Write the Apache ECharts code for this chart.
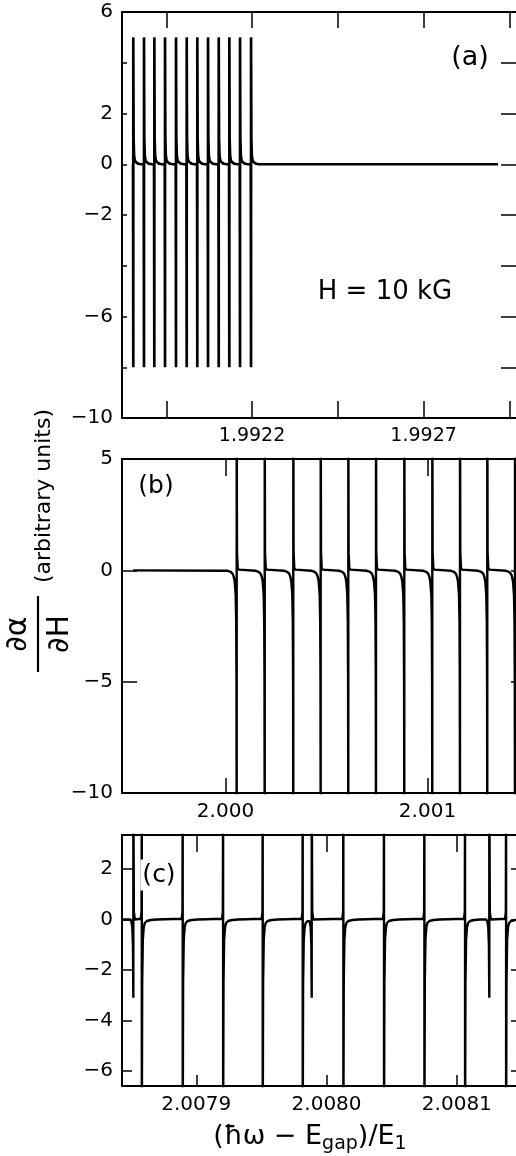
<!DOCTYPE html>
<html><head><meta charset="utf-8">
<script src="https://cdn.jsdelivr.net/npm/echarts@6/dist/echarts.min.js"></script>
<style>html,body{margin:0;padding:0;background:#fff}#c{width:516px;height:1156px}</style>
</head><body><div id="c"></div>
<script>
// ---------------- Panel (a) : H = 10 kG ----------------
const aXRange = [1.991821, 1.992978];
const aYRange = [-10, 6];
const aXTicks = [1.99195, 1.9922, 1.99245, 1.9927, 1.99295];
const aXLabels = [1.9922, 1.9927];
const aYTicks = [6, 4, 2, 0, -2, -4, -6, -8, -10];
const aYLabels = [6, 2, 0, -2, -6, -10];
const aSpikes = [1.9918539, 1.9918851, 1.9919152, 1.9919464, 1.9919784, 1.9920096,
                 1.9920405, 1.9920717, 1.9921029, 1.9921338, 1.9921650, 1.9921971];
const aCore = [-8, 5];                       // spike runs from -8 up to +5
const aPreDx = [-0.0000008];
const aPreY = [0];
const aPostDx = [0.0000009, 0.0000023, 0.0000044, 0.0000087, 0.0000146, 0.0000233];
const aPostY = [1.0, 0.35, 0.15, 0.07, 0.02, 0];
const aLineEnd = 1.992917;

// ---------------- Panel (b) ----------------
const bXRange = [1.9994876, 2.0014530];
const bYRange = [-10, 5];
const bXTicks = [2.000, 2.001];
const bXLabels = [2.000, 2.001];
const bYTicks = [5, 0, -5, -10];
const bYLabels = [5, 0, -5, -10];
const bLineStart = 1.9995421;
const bSpikes = [2.0000554, 2.0001941, 2.0003356, 2.0004713, 2.0006079, 2.0007450,
                 2.0008851, 2.0010238, 2.0011609, 2.0012960, 2.0014332];
const bCore = [-14, 9];
const bPreDx = [-0.0000446, -0.0000297, -0.0000198, -0.0000149, -0.0000099, -0.0000050, -0.0000025, -0.0000010];
const bPreY = [-0.02, -0.07, -0.16, -0.28, -0.5, -1.1, -2.3, -5];
const bPostDx = [0.0000015, 0.0000050, 0.0000099, 0.0000198];
const bPostY = [0.8, 0.12, 0.03, 0];

// ---------------- Panel (c) ----------------
const cXRange = [2.0078430, 2.0081477];
const cYRange = [-6.6, 3.35];
const cXTicks = [2.0079, 2.0080, 2.0081];
const cXLabels = [2.0079, 2.0080, 2.0081];
const cYTicks = [2, 0, -2, -4, -6];
const cYLabels = [2, 0, -2, -4, -6];
const cSpikes = [2.0078517, 2.0078582, 2.0078896, 2.0079206, 2.0079510, 2.0079817, 2.0079886,
                 2.0080129, 2.0080441, 2.0080751, 2.0081063, 2.0081249, 2.0081378];
const cKinds  = ['short', 'full', 'full', 'full', 'full', 'full', 'short',
                 'full', 'full', 'full', 'full', 'short', 'full'];
// full resonance: up to +inf then from -inf back to zero
const cFullCore = [6, -9];
const cFullPreDx = [-0.0000008, -0.0000002];
const cFullPreY = [0.03, 0.3];
const cFullPostDx = [0.0000003, 0.0000008, 0.0000015, 0.0000023, 0.0000038, 0.0000069, 0.0000115];
const cFullPostY = [-2.5, -0.8, -0.3, -0.14, -0.06, -0.02, 0];
// weak resonance: dip to about -3 and a line up to the top
const cShortCore = [-3.1, 6];
const cShortPreDx = [-0.0000023, -0.0000015, -0.0000008, -0.0000003];
const cShortPreY = [0, -0.08, -0.3, -1.0];
const cShortPostDx = [0.0000004, 0.0000012];
const cShortPostY = [0.3, 0];

// -------------- helpers ---------------
function trace(start, end, spikes, kinds, shapes) {
  const pts = [];
  if (start != null) pts.push([start, 0]);
  spikes.forEach((s, i) => {
    const sh = shapes[kinds ? kinds[i] : 'main'];
    sh.preDx.forEach((d, j) => {
      const x = s + d;
      const lastX = pts.length ? pts[pts.length - 1][0] : -Infinity;
      if (x > lastX) pts.push([x, sh.preY[j]]);
    });
    sh.core.forEach(y => pts.push([s, y]));
    const next = spikes[i + 1];
    const limit = next != null ? next + shapes[kinds ? kinds[i + 1] : 'main'].preDx[0] : Infinity;
    sh.postDx.forEach((d, j) => {
      const x = s + d;
      if (x < limit) pts.push([x, sh.postY[j]]);
    });
  });
  if (end != null && end > pts[pts.length - 1][0]) pts.push([end, 0]);
  return pts;
}

const aData = trace(null, aLineEnd, aSpikes, null,
  { main: { preDx: aPreDx, preY: aPreY, core: aCore, postDx: aPostDx, postY: aPostY } });
const bData = trace(bLineStart, null, bSpikes, null,
  { main: { preDx: bPreDx, preY: bPreY, core: bCore, postDx: bPostDx, postY: bPostY } });
const cData = trace(cXRange[0], cXRange[1], cSpikes, cKinds, {
  full: { preDx: cFullPreDx, preY: cFullPreY, core: cFullCore, postDx: cFullPostDx, postY: cFullPostY },
  short: { preDx: cShortPreDx, preY: cShortPreY, core: cShortCore, postDx: cShortPostDx, postY: cShortPostY }
});

const FONT = 'DejaVu Sans';
function fmt(v, dec) {
  const s = Math.abs(v).toFixed(dec);
  return (v < -1e-12 ? '\u2212' : '') + s;
}
function xAx(grid, pos, range, ticks, labels, tickLen, dec, fs) {
  return {
    type: 'value', gridIndex: grid, position: pos, min: range[0], max: range[1],
    axisLine: { show: true, onZero: false, lineStyle: { color: '#000', width: 2 } },
    axisTick: { show: true, inside: true, length: tickLen, customValues: ticks,
                lineStyle: { color: '#000', width: 1.5 } },
    axisLabel: { show: !!labels, customValues: labels || [], formatter: v => fmt(v, dec),
                 color: '#000', fontSize: fs, fontFamily: FONT, margin: 9 },
    splitLine: { show: false }
  };
}
function yAx(grid, pos, range, ticks, labels, tickLen, fs) {
  return {
    type: 'value', gridIndex: grid, position: pos, min: range[0], max: range[1],
    axisLine: { show: true, onZero: false, lineStyle: { color: '#000', width: 2 } },
    axisTick: { show: true, inside: true, length: tickLen, customValues: ticks,
                lineStyle: { color: '#000', width: 1.5 } },
    axisLabel: { show: !!labels, customValues: labels || [], formatter: v => fmt(v, 0),
                 color: '#000', fontSize: fs, fontFamily: FONT, margin: 9 },
    splitLine: { show: false }
  };
}

const chart = echarts.init(document.getElementById('c'), null, { renderer: 'canvas' });
const option = {
  animation: false,
  backgroundColor: '#fff',
  grid: [
    { left: 122, top: 12, width: 397, height: 406, outerBoundsMode: 'none', containLabel: false },
    { left: 122, top: 459, width: 397, height: 334, outerBoundsMode: 'none', containLabel: false },
    { left: 122, top: 835, width: 397, height: 251, outerBoundsMode: 'none', containLabel: false }
  ],
  xAxis: [
    xAx(0, 'bottom', aXRange, aXTicks, aXLabels, 17, 4, 19),
    xAx(0, 'top', aXRange, aXTicks, null, 16, 4, 19),
    xAx(1, 'bottom', bXRange, bXTicks, bXLabels, 15, 3, 20),
    xAx(1, 'top', bXRange, bXTicks, null, 17, 3, 20),
    xAx(2, 'bottom', cXRange, cXTicks, cXLabels, 11, 4, 20),
    xAx(2, 'top', cXRange, cXTicks, null, 17, 4, 20)
  ],
  yAxis: [
    yAx(0, 'left', aYRange, aYTicks, aYLabels, 5, 20),
    yAx(0, 'right', aYRange, aYTicks, null, 18, 20),
    yAx(1, 'left', bYRange, bYTicks, bYLabels, 15, 20),
    yAx(1, 'right', bYRange, bYTicks, null, 8, 20),
    yAx(2, 'left', cYRange, cYTicks, cYLabels, 10, 20),
    yAx(2, 'right', cYRange, cYTicks, null, 8, 20)
  ],
  series: [
    { type: 'line', xAxisIndex: 0, yAxisIndex: 0, data: aData, showSymbol: false, clip: true,
      lineStyle: { color: '#000', width: 2.7 } },
    { type: 'line', xAxisIndex: 2, yAxisIndex: 2, data: bData, showSymbol: false, clip: true,
      lineStyle: { color: '#000', width: 2.4 } },
    { type: 'line', xAxisIndex: 4, yAxisIndex: 4, data: cData, showSymbol: false, clip: true,
      lineStyle: { color: '#000', width: 2.4 } }
  ],
  graphic: [
    { type: 'text', x: 470, y: 58, z: 10, style: { text: '(a)', font: '27px "DejaVu Sans"', fill: '#000', align: 'center', verticalAlign: 'middle' } },
    { type: 'text', x: 385, y: 292, z: 10, style: { text: 'H = 10 kG', font: '26px "DejaVu Sans"', fill: '#000', align: 'center', verticalAlign: 'middle' } },
    { type: 'text', x: 156, y: 486, z: 10, style: { text: '(b)', font: '25px "DejaVu Sans"', fill: '#000', align: 'center', verticalAlign: 'middle' } },
    { type: 'text', x: 159, y: 875, z: 10, style: { text: '(c)', font: '25px "DejaVu Sans"', fill: '#000', align: 'center', verticalAlign: 'middle',
        backgroundColor: '#fff', padding: [3, 2, 3, 2] } },
    { type: 'text', x: 310, y: 1137, z: 10, style: {
        text: '{m|(ħω − E}{s|gap}{m|)/E}{s|1}',
        align: 'center', verticalAlign: 'middle', fill: '#000',
        rich: {
          m: { fontSize: 27, fontFamily: FONT, lineHeight: 34, verticalAlign: 'middle', fill: '#000' },
          s: { fontSize: 19, fontFamily: FONT, lineHeight: 20, verticalAlign: 'bottom', fill: '#000' }
        } } },
    { type: 'group', x: 38, y: 634, rotation: Math.PI / 2, z: 10, children: [
        { type: 'text', x: 0, y: -20, style: { text: '∂α', font: '30px "DejaVu Sans"', fill: '#000', align: 'center', verticalAlign: 'middle' } },
        { type: 'line', shape: { x1: -38, y1: 0, x2: 38, y2: 0 }, style: { stroke: '#000', lineWidth: 2.2 } },
        { type: 'text', x: 0, y: 22, style: { text: '∂H', font: '30px "DejaVu Sans"', fill: '#000', align: 'center', verticalAlign: 'middle' } },
        { type: 'text', x: 138, y: 6, style: { text: '(arbitrary units)', font: '22px "DejaVu Sans"', fill: '#000', align: 'center', verticalAlign: 'middle' } }
      ] }
  ]
};
chart.setOption(option);
</script>
</body></html>
